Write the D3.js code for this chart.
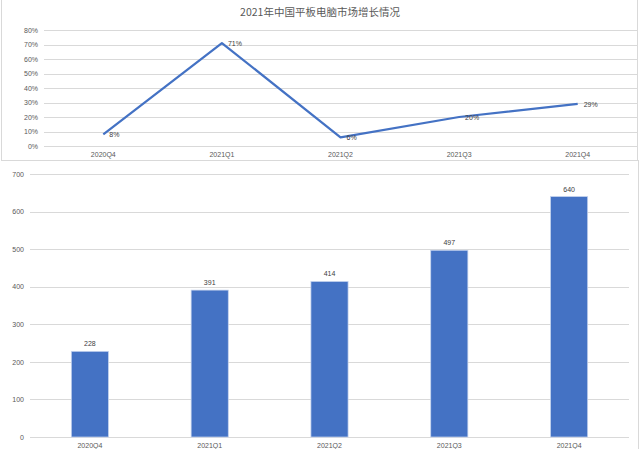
<!DOCTYPE html>
<html>
<head>
<meta charset="utf-8">
<script src="https://cdn.jsdelivr.net/npm/d3@7"></script>
<style>
  body { margin: 0; background: #fff; }
  svg { display: block; font-family: "Liberation Sans", "Noto Sans", sans-serif; }
  .tick text { fill: #595959; font-size: 7px; }
  .grid line { stroke: #d9d9d9; stroke-width: 1; }
  .lbl { fill: #404040; font-size: 7px; }
</style>
</head>
<body>
<div id="chart"></div>
<script>
var quarters = ["2020Q4", "2021Q1", "2021Q2", "2021Q3", "2021Q4"];
var growth = [0.08, 0.71, 0.06, 0.20, 0.29];
var shipments = [228, 391, 414, 497, 640];
var growthTicks = [0, 0.1, 0.2, 0.3, 0.4, 0.5, 0.6, 0.7, 0.8];
var shipTicks = [0, 100, 200, 300, 400, 500, 600, 700];
var title = "2021年中国平板电脑市场增长情况";

var w = 640, h = 449;
var svg = d3.select("#chart").append("svg").attr("width", w).attr("height", h);

// frames
svg.append("rect")
    .attr("x", 1.5).attr("y", -1)
    .attr("width", 636).attr("height", 161.5)
    .attr("fill", "none").attr("stroke", "#d9d9d9");
svg.append("line")
    .attr("x1", 638.5).attr("x2", 638.5).attr("y1", 160).attr("y2", h)
    .attr("stroke", "#d9d9d9");

svg.append("text")
    .attr("x", 320).attr("y", 16)
    .attr("text-anchor", "middle")
    .style("font-family", "'Noto Sans CJK SC', sans-serif")
    .style("font-size", "10.5px")
    .attr("fill", "#595959")
    .text(title);

// ---- top: growth line ----
var x1 = d3.scaleBand().domain(quarters).range([44, 637]);
var y1 = d3.scaleLinear().domain([0, 0.8]).range([146, 30]);

var lineChart = svg.append("g");
lineChart.append("g").attr("class", "grid")
    .selectAll("line").data(growthTicks).enter().append("line")
    .attr("x1", 44).attr("x2", 637)
    .attr("y1", function(d) { return Math.round(y1(d)) + 0.5; })
    .attr("y2", function(d) { return Math.round(y1(d)) + 0.5; });

lineChart.append("g")
    .attr("transform", "translate(44,0)")
    .call(d3.axisLeft(y1).tickValues(growthTicks).tickFormat(d3.format(".0%")).tickSize(0).tickPadding(6))
    .call(function(g) { g.select(".domain").remove(); });

lineChart.append("g")
    .attr("transform", "translate(0,146)")
    .call(d3.axisBottom(x1).tickSize(0).tickPadding(6))
    .call(function(g) { g.select(".domain").remove(); });

var line = d3.line()
    .x(function(d, i) { return x1(quarters[i]) + x1.bandwidth() / 2; })
    .y(function(d) { return y1(d); });

lineChart.append("path")
    .datum(growth)
    .attr("d", line)
    .attr("fill", "none")
    .attr("stroke", "#4472c4")
    .attr("stroke-width", 2.25)
    .attr("stroke-linejoin", "round");

lineChart.selectAll(".glbl").data(growth).enter().append("text")
    .attr("class", "lbl")
    .attr("x", function(d, i) { return x1(quarters[i]) + x1.bandwidth() / 2 + 6; })
    .attr("y", function(d) { return y1(d) + 3; })
    .text(function(d) { return Math.round(d * 100) + "%"; });

// ---- bottom: shipment bars ----
var x2 = d3.scaleBand().domain(quarters).range([30, 629]).paddingInner(0.69).paddingOuter(0.345);
var y2 = d3.scaleLinear().domain([0, 700]).range([437, 174]);

var barChart = svg.append("g");
barChart.append("g").attr("class", "grid")
    .selectAll("line").data(shipTicks).enter().append("line")
    .attr("x1", 30).attr("x2", 629)
    .attr("y1", function(d) { return Math.round(y2(d)) + 0.5; })
    .attr("y2", function(d) { return Math.round(y2(d)) + 0.5; });

barChart.append("g")
    .attr("transform", "translate(30,0)")
    .call(d3.axisLeft(y2).tickValues(shipTicks).tickSize(0).tickPadding(6))
    .call(function(g) { g.select(".domain").remove(); });

barChart.append("g")
    .attr("transform", "translate(0,437)")
    .call(d3.axisBottom(x2).tickSize(0).tickPadding(6))
    .call(function(g) { g.select(".domain").remove(); });

barChart.selectAll(".bar").data(shipments).enter().append("rect")
    .attr("class", "bar")
    .attr("x", function(d, i) { return x2(quarters[i]); })
    .attr("width", x2.bandwidth())
    .attr("y", function(d) { return y2(d); })
    .attr("height", function(d) { return y2(0) - y2(d); })
    .attr("fill", "#4472c4")
    .attr("stroke", "#c5d3ee")
    .attr("stroke-width", 0.75);

barChart.selectAll(".blbl").data(shipments).enter().append("text")
    .attr("class", "lbl")
    .attr("text-anchor", "middle")
    .attr("x", function(d, i) { return x2(quarters[i]) + x2.bandwidth() / 2; })
    .attr("y", function(d) { return y2(d) - 5; })
    .text(function(d) { return d; });
</script>
</body>
</html>
